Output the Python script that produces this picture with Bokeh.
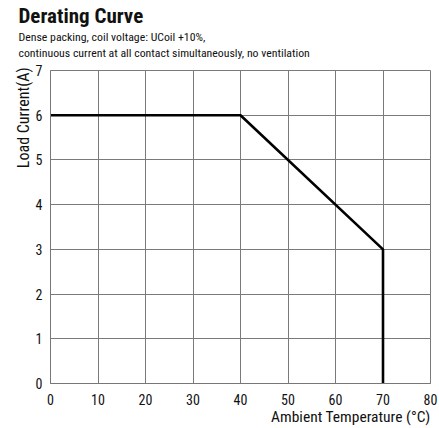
from bokeh.plotting import figure
from bokeh.models import Title, FixedTicker
from bokeh.embed import file_html
from bokeh.resources import INLINE

# ---- data ----
temperature = [0, 40, 70, 70]          # Ambient temperature (°C)
load_current = [6, 6, 3, 0]            # Load current (A)
x_ticks = [0, 10, 20, 30, 40, 50, 60, 70, 80]
y_ticks = [0, 1, 2, 3, 4, 5, 6, 7]
title_text = "Derating Curve"
subtitle_lines = ["Dense packing, coil voltage: UCoil +10%,",
                  "continuous current at all contact simultaneously, no ventilation"]
x_title = "Ambient Temperature (°C)"
y_title = "Load Current(A)"

FONT = "'Roboto Condensed', Roboto, sans-serif"
INK = "#111111"

p = figure(frame_width=380, frame_height=313, x_range=(0, 80), y_range=(0, 7),
           output_backend="svg", toolbar_location=None,
           min_border_left=50, min_border_right=9, min_border_top=70, min_border_bottom=45)
p.title.visible = False

p.xaxis.ticker = FixedTicker(ticks=x_ticks)
p.yaxis.ticker = FixedTicker(ticks=y_ticks)
for ax in (p.xaxis[0], p.yaxis[0]):
    ax.major_tick_line_color = None
    ax.minor_tick_line_color = None
    ax.axis_line_color = "#777777"
    ax.major_label_text_font = FONT
    ax.major_label_text_font_size = "14px"
    ax.major_label_text_color = INK
p.xaxis.major_label_standoff = 4
p.yaxis.major_label_standoff = 2

p.grid.grid_line_color = "#7a7a7a"
p.grid.grid_line_width = 1
p.outline_line_color = "#7a7a7a"
p.background_fill_color = "white"
p.border_fill_color = "white"

p.line(temperature, load_current, line_color="black", line_width=2.6)

# header (stacked from the frame outward): small gap, subtitle, title
p.add_layout(Title(text=" ", align="left", standoff=0,
                   text_font=FONT, text_font_size="6.5px"), "above")
p.add_layout(Title(text="\n".join(subtitle_lines), align="left", offset=-32, standoff=0,
                   text_font=FONT, text_font_size="11.8px", text_font_style="normal",
                   text_line_height=1.2, text_color=INK), "above")
p.add_layout(Title(text=title_text, align="left", offset=-32, standoff=0,
                   text_font=FONT, text_font_size="21px", text_font_style="bold",
                   text_color=INK), "above")
# axis titles
p.add_layout(Title(text=y_title, align="right", offset=-3, standoff=0,
                   text_font=FONT, text_font_size="16px", text_font_style="normal",
                   text_color=INK), "left")
p.add_layout(Title(text=x_title, align="right", standoff=0, vertical_align="top",
                   text_font=FONT, text_font_size="15.5px", text_font_style="normal",
                   text_color=INK), "below")

open("out.html", "w").write(file_html(p, INLINE))
